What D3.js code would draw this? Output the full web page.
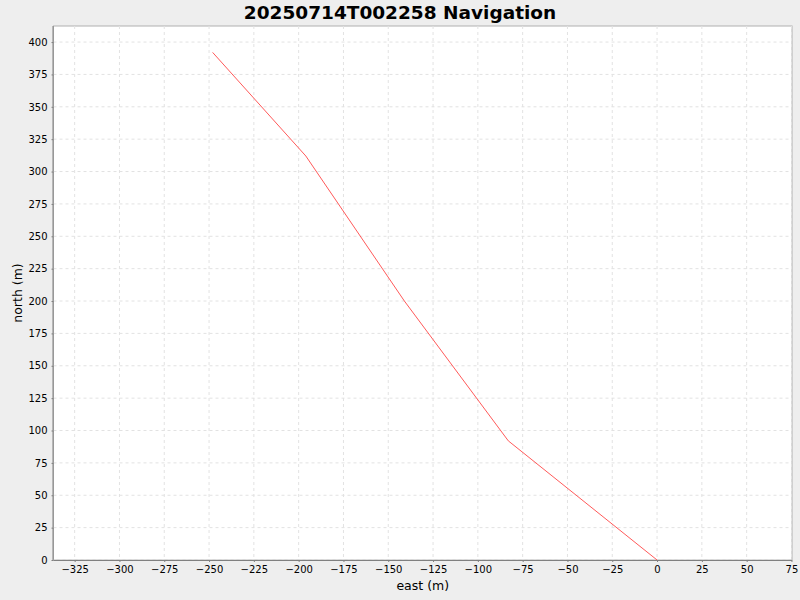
<!DOCTYPE html>
<html>
<head>
<meta charset="utf-8">
<script src="https://cdn.jsdelivr.net/npm/d3@7"></script>
<style>
  body { margin: 0; background: #eeeeee; }
  svg { display: block; font-family: "DejaVu Sans", sans-serif; }
</style>
</head>
<body>
<div class="chart"></div>
<script>
// track points, east / north in metres
let east  = [0, -83, -141, -196, -248]
let north = [0, 92, 200, 312, 392]
let xTicks = d3.range(-325, 76, 25)
let yTicks = d3.range(0, 401, 25)

let w = 800
let h = 600
let pLeft = 53.5, pRight = 792, pTop = 26, pBottom = 560

let svg = d3.select(".chart")
  .append("svg")
  .attr("width", w)
  .attr("height", h)

svg.append("rect")
  .attr("width", w).attr("height", h)
  .attr("fill", "#eeeeee")

// plot background
svg.append("rect")
  .attr("x", pLeft).attr("y", pTop)
  .attr("width", pRight - pLeft).attr("height", pBottom - pTop)
  .attr("fill", "white")
  .attr("stroke", "#b0b0b0")
  .attr("stroke-width", 1)

const xScale = d3.scaleLinear()
  .domain([-336.8, 75.3])
  .range([pLeft, pRight])
const yScale = d3.scaleLinear()
  .domain([0, 412.4])
  .range([pBottom, pTop])

// grid
svg.append("g")
  .selectAll("line")
  .data(xTicks)
  .enter()
  .append("line")
  .attr("x1", d => xScale(d)).attr("x2", d => xScale(d))
  .attr("y1", pTop).attr("y2", pBottom)
  .attr("stroke", "#e2e2e2").attr("stroke-dasharray", "3,3")
svg.append("g")
  .selectAll("line")
  .data(yTicks)
  .enter()
  .append("line")
  .attr("y1", d => yScale(d)).attr("y2", d => yScale(d))
  .attr("x1", pLeft).attr("x2", pRight)
  .attr("stroke", "#e2e2e2").attr("stroke-dasharray", "3,3")

// axes
const xAxis = d3.axisBottom(xScale).tickValues(xTicks).tickSizeOuter(0).tickSize(2).tickPadding(4)
let gx = svg.append("g")
  .attr("transform", "translate(0," + pBottom + ")")
  .call(xAxis)
const yAxis = d3.axisLeft(yScale).tickValues(yTicks).tickSizeOuter(0).tickSize(2).tickPadding(4)
let gy = svg.append("g")
  .attr("transform", "translate(" + pLeft + ",0)")
  .call(yAxis)

;[gx, gy].forEach(g => {
  g.selectAll("path").attr("stroke", "#808080")
  g.selectAll("line").attr("stroke", "#808080")
  g.selectAll("text").attr("font-family", "DejaVu Sans").attr("font-size", 10).attr("fill", "#000")
})
gx.select("path").attr("d", "M" + pLeft + ",0.5H" + pRight)
gy.select("path").attr("d", "M-0.5," + pTop + "V" + pBottom)

// line
let pts = east.map((e, i) => [e, north[i]])
svg.append("path")
  .datum(pts)
  .attr("fill", "none")
  .attr("stroke", "#ff5a5a")
  .attr("stroke-width", 1)
  .attr("d", d3.line().x(d => xScale(d[0])).y(d => yScale(d[1])))

// titles
svg.append("text")
  .text("20250714T002258 Navigation")
  .attr("x", 400)
  .attr("y", 19)
  .attr("text-anchor", "middle")
  .attr("font-size", 18.5)
  .attr("font-weight", "bold")

svg.append("text")
  .text("east (m)")
  .attr("x", (pLeft + pRight) / 2)
  .attr("y", 590)
  .attr("text-anchor", "middle")
  .attr("font-size", 12.5)

svg.append("text")
  .text("north (m)")
  .attr("transform", "translate(22," + (pTop + pBottom) / 2 + ") rotate(-90)")
  .attr("text-anchor", "middle")
  .attr("font-size", 12.5)
</script>
</body>
</html>
